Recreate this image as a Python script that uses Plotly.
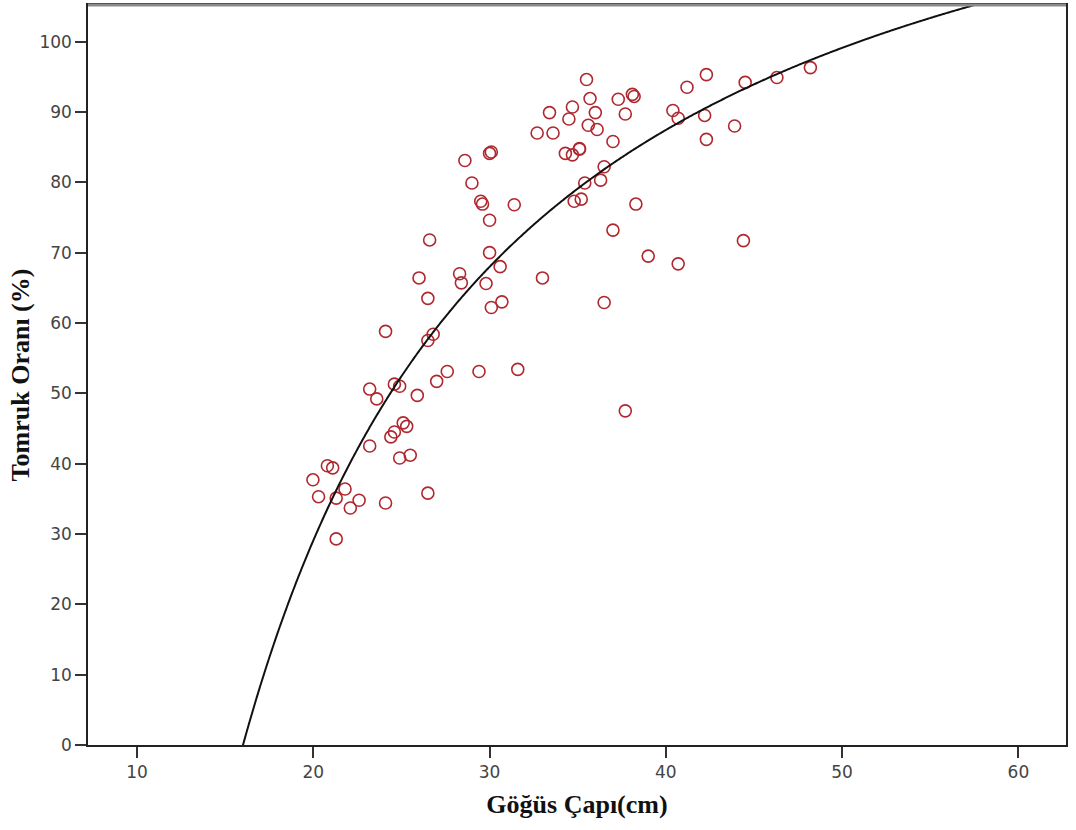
import numpy as np
import plotly.graph_objects as go

gogus_capi = [19.98, 20.3, 20.8, 21.1, 21.3, 21.3, 21.8, 22.1, 22.6, 23.2, 23.2, 23.6, 24.1, 24.1,
              24.4, 24.6, 24.6, 24.9, 24.9, 25.1, 25.3, 25.5, 25.9, 26.0, 26.5, 26.5, 26.5, 26.6,
              26.8, 27.0, 27.6, 28.3, 28.4, 28.6, 29.0, 29.4, 29.5, 29.6, 29.8, 30.0, 30.1, 30.0,
              30.0, 30.1, 30.6, 30.7, 31.4, 31.6, 32.7, 33.0, 33.4, 33.6, 34.3, 34.5, 34.7, 34.7,
              34.8, 35.1, 35.1, 35.2, 35.4, 35.5, 35.6, 35.7, 36.0, 36.1, 36.3, 36.5, 36.5, 37.0,
              37.0, 37.3, 37.7, 37.7, 38.1, 38.2, 38.3, 39.0, 40.4, 40.7, 40.7, 41.2, 42.2, 42.3,
              42.3, 43.9, 44.4, 44.5, 46.3, 48.2]
tomruk_orani = [37.7, 35.3, 39.7, 39.4, 35.1, 29.3, 36.4, 33.7, 34.8, 50.6, 42.5, 49.2, 58.8, 34.4,
                43.8, 51.3, 44.5, 51.0, 40.8, 45.8, 45.3, 41.2, 49.7, 66.4, 63.5, 57.5, 35.8, 71.8,
                58.4, 51.7, 53.1, 67.0, 65.7, 83.1, 79.9, 53.1, 77.3, 76.9, 65.6, 84.1, 84.3, 74.6,
                70.0, 62.2, 68.0, 63.0, 76.8, 53.4, 87.0, 66.4, 89.9, 87.0, 84.1, 89.0, 83.9, 90.7,
                77.3, 84.8, 84.7, 77.6, 79.9, 94.6, 88.1, 91.9, 89.9, 87.5, 80.3, 82.2, 62.9, 85.8,
                73.2, 91.8, 89.7, 47.5, 92.5, 92.2, 76.9, 69.5, 90.2, 68.4, 89.1, 93.5, 89.5, 95.3,
                86.1, 88.0, 71.7, 94.2, 94.9, 96.3]

# Inverse-model fit curve coefficients: y = a + b / x
fit_a = 145.8
fit_b = -2334.7
x_tick_vals = [10, 20, 30, 40, 50, 60]
y_tick_vals = [0, 10, 20, 30, 40, 50, 60, 70, 80, 90, 100]

xc = np.linspace(16.0, 62.7, 800)
yc = fit_a + fit_b / xc

fig = go.Figure()
fig.add_trace(go.Scatter(x=gogus_capi, y=tomruk_orani, mode="markers",
                         marker=dict(symbol="circle-open", size=12, color="#b0282f",
                                     line=dict(width=1.6, color="#b0282f")),
                         showlegend=False))
fig.add_trace(go.Scatter(x=xc, y=yc, mode="lines",
                         line=dict(color="#111111", width=2, simplify=False),
                         showlegend=False))

tick_font = dict(family="DejaVu Sans", size=17, color="#444444")
title_font = dict(family="Liberation Serif", size=26, color="#111111")

fig.update_layout(
    width=1076, height=830,
    margin=dict(l=88, r=10, t=3, b=85),
    paper_bgcolor="white", plot_bgcolor="white",
    xaxis=dict(range=[7.22, 62.7], tickvals=x_tick_vals, ticks="outside", ticklen=11,
               tickwidth=2, tickcolor="#333333", showgrid=False, zeroline=False,
               showline=True, linecolor="#222222", linewidth=1.5, mirror=True,
               tickfont=tick_font,
               title=dict(text="<b>Göğüs Çapı(cm)</b>", font=title_font, standoff=14)),
    yaxis=dict(range=[0, 105.2], tickvals=y_tick_vals, ticks="outside", ticklen=11,
               tickwidth=2, tickcolor="#333333", showgrid=False, zeroline=False,
               showline=True, linecolor="#222222", linewidth=1.5, mirror=True,
               tickfont=tick_font,
               title=dict(text="<b>Tomruk Oranı (%)</b>", font=title_font, standoff=2)),
)
fig.add_shape(type="line", xref="paper", yref="paper", x0=0, x1=1, y0=1, y1=1,
              line=dict(color="#8a8a8a", width=3))

fig.write_html("out.html")
